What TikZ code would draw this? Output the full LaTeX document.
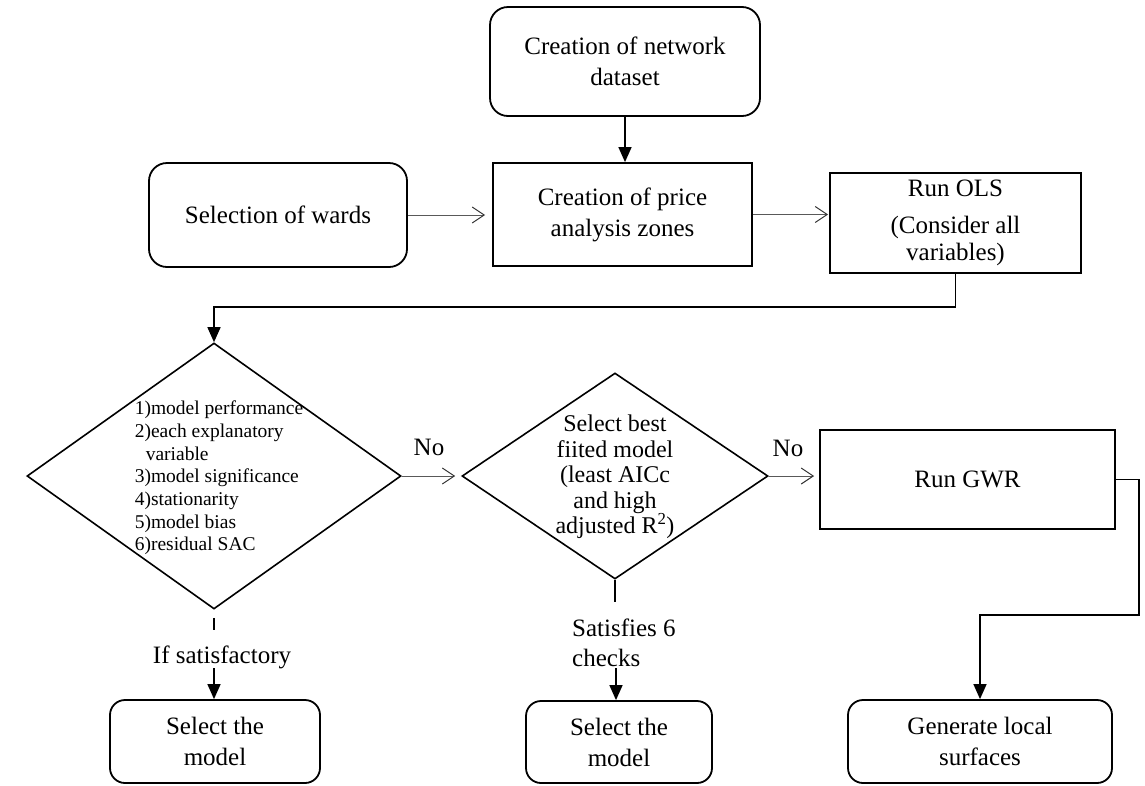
\documentclass[tikz,border=0pt]{standalone}
\usepackage{fontspec}
\setmainfont{Liberation Serif}
\usetikzlibrary{arrows.meta,shapes.geometric}

\begin{document}
\begin{tikzpicture}[x=1pt,y=-1pt,
  base/.style={draw=black, line width=1.8pt, align=center, inner sep=0pt,
    font=\fontsize{25}{31}\selectfont},
  rbox/.style={base, rounded corners=18pt},
  sbox/.style={base},
  dia/.style={draw=black, line width=1.6pt, diamond, inner sep=0pt},
  farrow/.style={draw=black, line width=1.4pt, -{Triangle[length=15pt,width=13pt]}},
  oarrow/.style={draw=black!65, line width=1pt,
    -{Straight Barb[length=12pt,width=16pt,line width=1pt,color=black!80]}},
  plain/.style={draw=black, line width=1.4pt},
  lbl/.style={font=\fontsize{25}{30}\selectfont, inner sep=0pt}
]
\fill[white] (0,0) rectangle (1145,785);
\useasboundingbox (0,0) rectangle (1145,785);

% boxes of the upper row
\node[rbox, minimum width=270pt, minimum height=109pt] (net) at (625,61.5)
  {Creation of network\\dataset};
\node[rbox, minimum width=258pt, minimum height=104pt] (wards) at (278,215)
  {Selection of wards};
\node[sbox, minimum width=259pt, minimum height=103pt] (zones) at (622.5,214.5)
  {Creation of price\\analysis zones};
\node[sbox, minimum width=251pt, minimum height=100pt,
  font=\fontsize{25}{27}\selectfont] (ols) at (955.5,223)
  {Run OLS\\[10pt](Consider all\\variables)};

% decisions
\node[dia, minimum width=374pt, minimum height=266pt] (d1) at (214,476) {};
\node[align=left, inner sep=0pt, font=\fontsize{19.5}{22.7}\selectfont] (d1t) at (219,478)
  {1)model performance\\2)each explanatory\\\hspace*{11pt}variable\\3)model significance\\
   4)stationarity\\5)model bias\\6)residual SAC};
\node[dia, minimum width=306pt, minimum height=206pt] (d2) at (615,476) {};
\node[align=center, inner sep=0pt, font=\fontsize{24}{25.5}\selectfont] (d2t) at (615,477)
  {Select best\\fiited model\\(least AICc\\and high\\adjusted R\textsuperscript{2})};
\node[sbox, minimum width=295pt, minimum height=99pt] (gwr) at (967.5,479.5) {Run GWR};

% results
\node[rbox, rounded corners=15pt, minimum width=210pt, minimum height=83pt] (sel1) at (215,741.5)
  {Select the\\model};
\node[rbox, rounded corners=15pt, minimum width=186pt, minimum height=82pt] (sel2) at (619,742)
  {Select the\\model};
\node[rbox, rounded corners=15pt, minimum width=264pt, minimum height=83pt] (gen) at (980,741.5)
  {Generate local\\surfaces};

% labels
\node[lbl] (no1) at (429,447) {No};
\node[lbl] (no2) at (788,448) {No};
\node[lbl] (ifsat) at (222,657) {If satisfactory};
\node[lbl, align=left, anchor=west] (sat6) at (572,643) {Satisfies 6\\checks};

\coordinate (t1) at (214,668);
\coordinate (t2) at (616,668);
\coordinate (bend) at (0,307);
\coordinate (turn) at (1139,615);

% connectors
\draw[farrow] (net.south) -- (net.south |- zones.north);
\draw[oarrow, shorten >=7pt] (wards.east) -- (wards.east -| zones.west);
\draw[oarrow, shorten >=1pt] (zones.east) -- (zones.east -| ols.west);
\draw[farrow] (ols.south) -- (ols.south |- bend) -| (d1.north);
\draw[oarrow, shorten >=6pt] (d1.east) -- (d2.west);
\draw[oarrow, shorten >=5pt] (d2.east) -- (d2.east -| gwr.west);
\draw[plain, shorten <=8pt] (d1.south) -- (d1.south |- 0,630);
\draw[farrow] (t1) -- (t1 |- sel1.north);
\draw[plain] (d2.south) -- (d2.south |- 0,602);
\draw[farrow] (t2) -- (t2 |- sel2.north);
\draw[farrow] (gwr.east) -- (gwr.east -| turn) -- (turn) -- (turn -| gen.north) -- (gen.north);
\end{tikzpicture}
\end{document}
